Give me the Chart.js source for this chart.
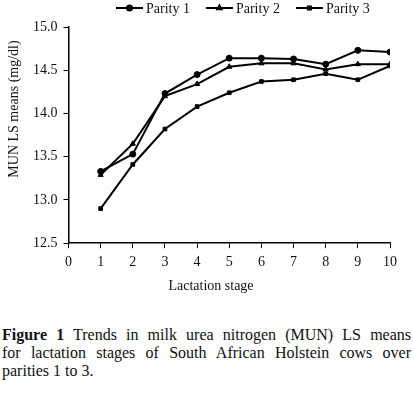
<!DOCTYPE html>
<html>
<head>
<meta charset="utf-8">
<script src="https://cdn.jsdelivr.net/npm/chart.js@4/dist/chart.umd.min.js"></script>
<style>
  html, body { margin: 0; padding: 0; background: #fff; }
  body { width: 413px; height: 393px; overflow: hidden; font-family: "Liberation Serif", "DejaVu Serif", serif; }
  #wrap { position: relative; width: 413px; height: 305px; }
  #caption { font-size: 16px; line-height: 18px; color: #111; width: 409px; margin: 21px 0 0 2px; }
  #caption .j { text-align: justify; text-align-last: justify; white-space: nowrap; }
</style>
</head>
<body>
<div id="wrap"><canvas id="c"></canvas></div>
<div id="caption">
  <div class="j"><b>Figure 1</b> Trends in milk urea nitrogen (MUN) LS means</div>
  <div class="j">for lactation stages of South African Holstein cows over</div>
  <div>parities 1 to 3.</div>
</div>
<script>
// MUN LS means by lactation stage, three parities
const stages = [1, 2, 3, 4, 5, 6, 7, 8, 9, 10];
const parity1 = [13.33, 13.53, 14.23, 14.45, 14.64, 14.64, 14.63, 14.57, 14.73, 14.71];
const parity2 = [13.29, 13.65, 14.20, 14.34, 14.54, 14.58, 14.58, 14.51, 14.57, 14.57];
const parity3 = [12.90, 13.41, 13.82, 14.08, 14.24, 14.37, 14.39, 14.46, 14.39, 14.55];
const seriesNames = ['Parity 1', 'Parity 2', 'Parity 3'];
const markerStyles = ['circle', 'triangle', 'rect'];
const markerSizes = [3, 3, 2.6];
const yTicks = [12.5, 13.0, 13.5, 14.0, 14.5, 15.0];

const FONT = '"Liberation Serif", "Times New Roman", serif';

function pts(vals) {
    return vals.map((v, i) => ({ x: stages[i], y: v }));
}

const datasets = [parity1, parity2, parity3].map((vals, i) => ({
    label: seriesNames[i],
    data: pts(vals),
    borderColor: '#000',
    backgroundColor: '#000',
    borderWidth: 2,
    pointStyle: markerStyles[i],
    pointRadius: markerSizes[i],
    pointBorderWidth: 1,
    tension: 0
}));

// legend and axis titles drawn by hand to match the figure's placement
const decor = {
    id: 'decor',
    afterDraw(chart) {
        const ctx = chart.ctx;
        ctx.save();
        ctx.fillStyle = '#111';
        ctx.strokeStyle = '#000';
        ctx.font = '14px ' + FONT;
        ctx.textBaseline = 'middle';
        // legend
        let x = 116;
        const y = 8;
        seriesNames.forEach((name, i) => {
            ctx.lineWidth = 2;
            ctx.beginPath();
            ctx.moveTo(x, y);
            ctx.lineTo(x + 27, y);
            ctx.stroke();
            Chart.helpers.drawPoint(ctx, { pointStyle: markerStyles[i], radius: markerSizes[i] - 0.5, borderWidth: 1 }, x + 13.5, y);
            ctx.fill();
            ctx.textAlign = 'left';
            ctx.fillText(name, x + 30, y + 1);
            x += 30 + ctx.measureText(name).width + 16;
        });
        // y title
        ctx.save();
        ctx.translate(14, 109);
        ctx.rotate(-Math.PI / 2);
        ctx.textAlign = 'center';
        ctx.fillText('MUN LS means (mg/dl)', 0, 0);
        ctx.restore();
        // x title
        ctx.textAlign = 'center';
        ctx.fillText('Lactation stage', 211, 286);
        ctx.restore();
    }
};

new Chart(document.getElementById('c'), {
    type: 'line',
    data: { datasets },
    plugins: [decor],
    options: {
        responsive: true,
        maintainAspectRatio: false,
        animation: false,
        layout: { padding: { top: 27, left: 27, right: 23, bottom: 28 } },
        plugins: {
            legend: { display: false },
            tooltip: { enabled: false }
        },
        scales: {
            x: {
                type: 'linear',
                min: 0,
                max: 10,
                ticks: { stepSize: 1, color: '#111', font: { family: FONT, size: 14 }, padding: 6 },
                grid: { drawOnChartArea: false, drawTicks: true, tickLength: 5, color: '#000', lineWidth: 1 },
                border: { color: '#000', width: 1.5 }
            },
            y: {
                min: 12.5,
                max: 15,
                afterBuildTicks(axis) { axis.ticks = yTicks.map(v => ({ value: v })); },
                ticks: { color: '#111', font: { family: FONT, size: 14 }, padding: 6, callback: v => v.toFixed(1) },
                grid: { drawOnChartArea: false, drawTicks: true, tickLength: 5, color: '#000', lineWidth: 1 },
                border: { color: '#000', width: 1.5 }
            }
        }
    }
});
</script>
</body>
</html>
